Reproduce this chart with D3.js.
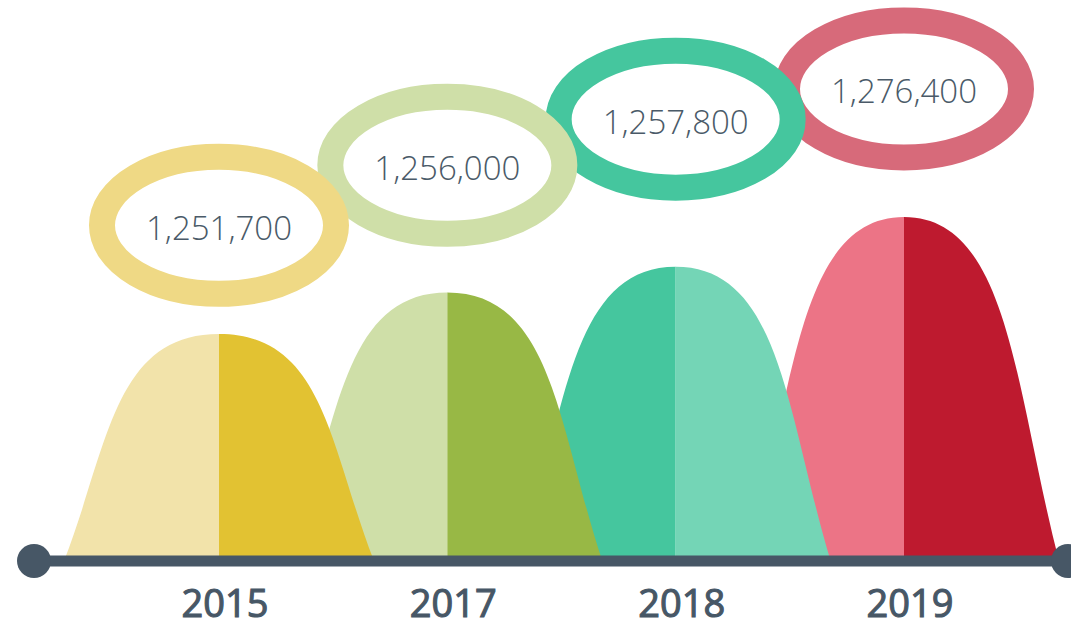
<!DOCTYPE html>
<html>
<head>
<meta charset="utf-8">
<script src="https://cdn.jsdelivr.net/npm/d3@7"></script>
<style>
  body { margin: 0; background: #fff; }
  text { font-family: "Open Sans", sans-serif; }
</style>
</head>
<body>
<div id="chart"></div>
<script>
// data
var years = ['2015', '2017', '2018', '2019'];
var values = [1251700, 1256000, 1257800, 1276400];
var light_colors = ['#F2E3AA', '#CFDFA8', '#45C69E', '#EC7486'];
var dark_colors = ['#E2C232', '#98B845', '#74D5B6', '#BE1A2F'];
var ring_colors = ['#EFD985', '#CFDFA8', '#45C69E', '#D76A7A'];

var chart_width = 1071;
var chart_height = 627;
var base_y = 561;
var half_width = 155;
var axis_color = '#475766';

var svg = d3.select('#chart')
      .append('svg')
      .attr('width', chart_width)
      .attr('height', chart_height);

//scales
var x_scale = d3.scalePoint()
        .domain(years)
        .range([219, 904]);

// bell tops, piecewise over value
var top_scale = d3.scaleLinear()
        .domain([1250000, 1255000, 1260000, 1280000])
        .range([348, 307, 235, 213]);

// ring centres
var ring_scale = d3.scaleLinear()
        .domain([1250000, 1255000, 1258000, 1280000])
        .range([243, 191, 114, 84]);

var rows = years.map(function(y, i) {
  return { year: y, value: values[i], i: i };
});

function half(d, side) {
  var cx = x_scale(d.year);
  var top = top_scale(d.value);
  var h = base_y - top;
  var w = half_width * side;
  var p = d3.path();
  p.moveTo(cx - w, base_y);
  p.bezierCurveTo(cx - 0.714 * w, base_y - 0.5 * h, cx - 0.68 * w, top, cx, top);
  p.lineTo(cx, base_y);
  p.closePath();
  return p.toString();
}

// bells, later years behind
var bells = svg.append('g')
  .selectAll('g')
  .data(rows.slice().reverse())
  .enter()
  .append('g');

bells.append('path')
  .attr('d', function(d) { return half(d, 1); })
  .attr('fill', function(d) { return light_colors[d.i]; });

bells.append('path')
  .attr('d', function(d) { return half(d, -1); })
  .attr('fill', function(d) { return dark_colors[d.i]; });

// rings
var rings = svg.append('g')
  .selectAll('g')
  .data(rows.slice().reverse())
  .enter()
  .append('g')
  .attr('transform', function(d) {
    return 'translate(' + x_scale(d.year) + ',' + ring_scale(d.value) + ')';
  });

rings.append('ellipse')
  .attr('rx', 117)
  .attr('ry', 68.5)
  .attr('fill', '#fff')
  .attr('stroke', function(d) { return ring_colors[d.i]; })
  .attr('stroke-width', 26);

rings.append('text')
  .attr('text-anchor', 'middle')
  .attr('y', 3)
  .attr('dy', '0.35em')
  .attr('font-size', 33)
  .attr('font-weight', 300)
  .attr('fill', '#4A5A68')
  .text(function(d) { return d3.format(',')(d.value); });

// axis line
svg.append('line')
  .attr('x1', 34)
  .attr('x2', 1068)
  .attr('y1', base_y)
  .attr('y2', base_y)
  .attr('stroke', axis_color)
  .attr('stroke-width', 11);

svg.selectAll('circle.end')
  .data([34, 1068])
  .enter()
  .append('circle')
  .attr('class', 'end')
  .attr('cx', function(d) { return d; })
  .attr('cy', base_y)
  .attr('r', 17)
  .attr('fill', axis_color);

// year labels
svg.append('g')
  .selectAll('text')
  .data(rows)
  .enter()
  .append('text')
  .attr('x', function(d) { return x_scale(d.year) + 6; })
  .attr('y', 617)
  .attr('text-anchor', 'middle')
  .attr('font-size', 38)
  .attr('font-weight', 400)
  .attr('fill', axis_color)
  .attr('stroke', axis_color)
  .attr('stroke-width', 1.1)
  .text(function(d) { return d.year; });
</script>
</body>
</html>
